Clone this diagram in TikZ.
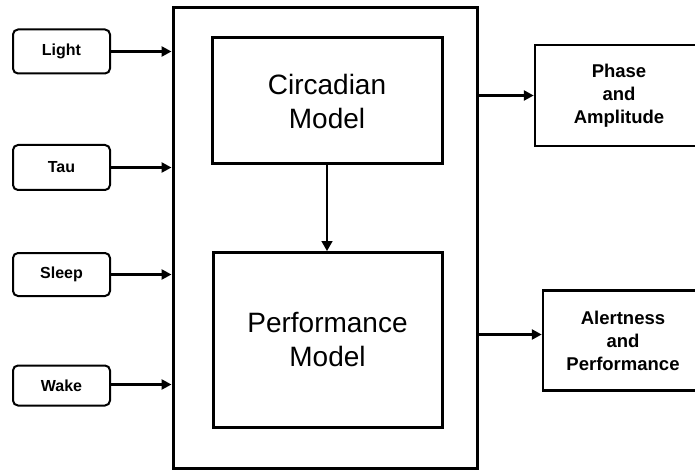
\documentclass[tikz,border=0pt]{standalone}
\usepackage{fontspec}
\setmainfont{Liberation Sans}
\usetikzlibrary{arrows.meta}
\begin{document}
\begin{tikzpicture}[x=1pt,y=-1pt,
  bigbox/.style={draw, line width=3pt, inner sep=0pt, align=center},
  inbox/.style={draw, line width=2pt, rounded corners=5pt, inner sep=0pt, align=center,
    font=\fontsize{16}{19}\selectfont\bfseries, minimum width=97pt},
  outbox/.style={draw, line width=2.5pt, inner sep=0pt, align=center,
    font=\fontsize{18.5}{23}\selectfont\bfseries},
  modelbox/.style={draw, line width=3pt, inner sep=0pt, align=center,
    font=\fontsize{28}{34}\selectfont},
  thickarrow/.style={line width=3pt, -{Triangle[length=10pt,width=10pt]}},
  thinarrow/.style={line width=1.6pt, -{Triangle[length=10pt,width=11pt]}}
]
\clip (0,0) rectangle (695,470);
\fill[white] (0,0) rectangle (695,470);

\node[bigbox, minimum width=304pt, minimum height=460pt] (outer) at (325,238) {};
\node[modelbox, minimum width=230pt, minimum height=126pt] (circ) at (327,101) {Circadian\\Model};
\node[modelbox, minimum width=229pt, minimum height=175pt] (perf) at (327.5,340) {Performance\\Model};

\node[inbox, minimum height=44pt] (light) at (61.5,51.5) {Light};
\node[inbox, minimum height=45pt] (tau) at (61.5,167.5) {Tau};
\node[inbox, minimum height=43pt] (sleep) at (61.5,274.5) {Sleep};
\node[inbox, minimum height=40pt] (wake) at (61.5,385.5) {Wake};

\node[outbox, minimum width=168pt, minimum height=101pt] (phase) at (619,95.5) {Phase\\and\\Amplitude};
\node[outbox, minimum width=160pt, minimum height=100pt] (alert) at (623,340.5) {Alertness\\and\\Performance};

\draw[thickarrow] (light.east) -- (light.east -| outer.west);
\draw[thickarrow] (tau.east) -- (tau.east -| outer.west);
\draw[thickarrow] (sleep.east) -- (sleep.east -| outer.west);
\draw[thickarrow] ([yshift=1pt]wake.east) -- ([yshift=1pt]wake.east -| outer.west);

\draw[thinarrow] (circ.south) -- (circ.south |- perf.north);

\draw[thickarrow] (outer.east |- phase.west) -- (phase.west);
\draw[thickarrow] ([yshift=6pt]outer.east |- alert.west) -- ([yshift=6pt]alert.west);
\end{tikzpicture}
\end{document}
